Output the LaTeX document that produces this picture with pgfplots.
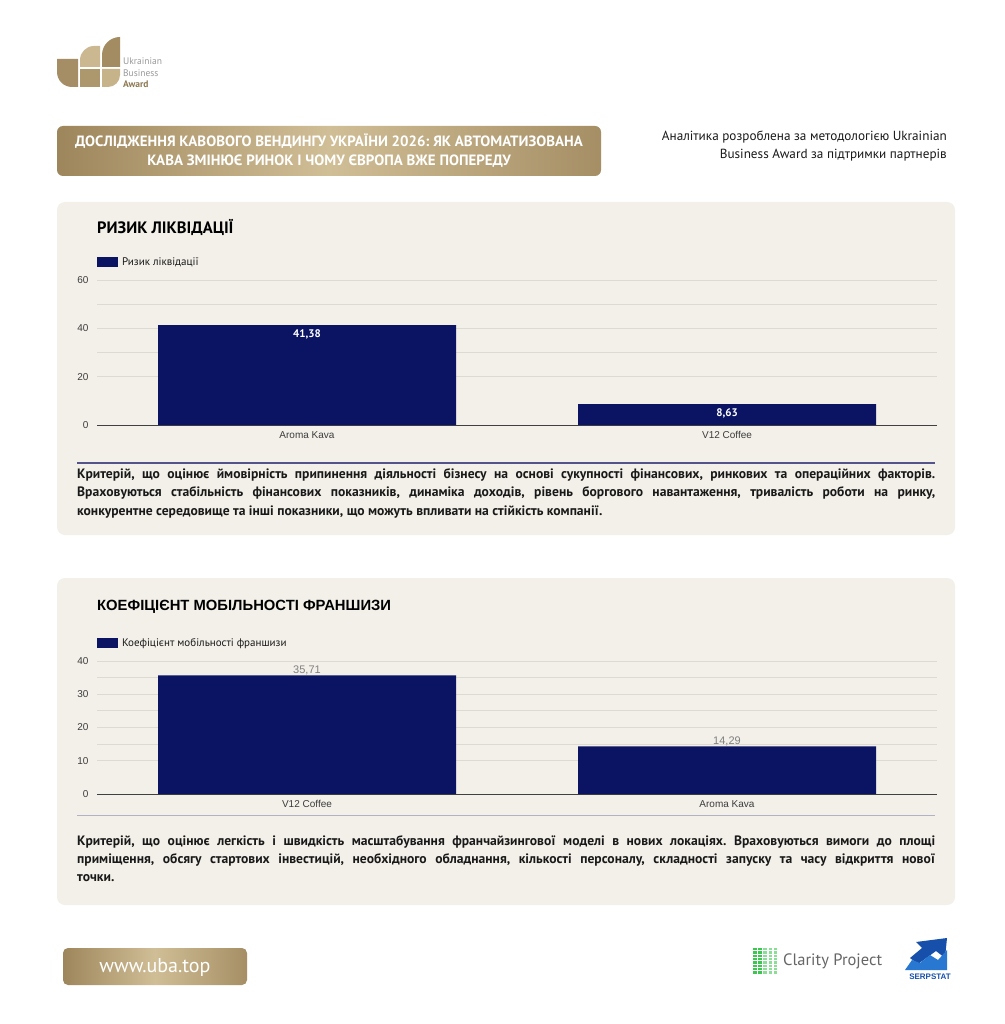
\documentclass[border=0pt]{standalone}
\usepackage{pgfplots}
\pgfplotsset{compat=1.18}
\usepackage{fontspec}
\setmainfont{PT Sans}
\newfontfamily\arialf{Liberation Sans}
\frenchspacing
\definecolor{navy}{RGB}{11,20,99}
\definecolor{panel}{RGB}{243,240,233}
\definecolor{goldD}{RGB}{158,134,92}
\definecolor{goldL}{RGB}{208,190,150}
\definecolor{gridc}{RGB}{221,218,211}
\definecolor{sepc}{RGB}{84,84,140}
\definecolor{txt}{RGB}{25,25,25}
\definecolor{tick}{RGB}{60,60,60}
\definecolor{claritygreen}{RGB}{60,200,80}
\definecolor{serpblue}{RGB}{22,80,170}
\definecolor{serplight}{RGB}{40,120,210}
\pgfplotsset{
  ubabar/.style={
    scale only axis, width=840pt,
    xmin=-0.5, xmax=1.5, ymin=0,
    ybar, bar width=298pt,
    xtick={0,1},
    ymajorgrids, yminorgrids,
    grid style={draw=gridc, line width=0.8pt},
    minor grid style={draw=gridc, line width=0.8pt},
    major tick length=0pt, minor tick length=0pt,
    axis line style={draw=none},
    tick label style={font=\arialf\fontsize{10}{12}\selectfont, text=tick},
    yticklabel style={xshift=-5pt},
    xticklabel style={yshift=-3pt},
    /pgf/number format/assume math mode=true,
    extra y ticks={0},
    extra y tick style={grid style={draw=black!75, line width=1pt}},
    legend style={at={(0,1)}, anchor=south west, draw=none, fill=none,
      inner sep=0pt, font=\fontsize{11}{12}\selectfont, text=txt,
      legend cell align=left},
    legend image code/.code={\fill[navy] (0pt,-5pt) rectangle (21pt,5pt);},
  }
}
\begin{document}
\begin{tikzpicture}[x=1pt,y=-1pt]
\fill[white] (0,0) rectangle (1004,1024);
% ---------- logo ----------
\fill[goldD!85!goldL] (57,59) -- (78,59) -- (78,87) -- (72,87) .. controls (63.7,87) and (57,80.3) .. (57,72) -- cycle;
\fill[goldL!90!goldD] (80,67) -- (80,60) .. controls (80,52.3) and (86.3,46) .. (94,46) -- (100,46) -- (100,67) -- cycle;
\fill[goldD!70!goldL] (80,69) rectangle (100,87);
\fill[goldD!90!goldL] (102,67) -- (102,55) .. controls (102,45.06) and (110.06,37) .. (120,37) -- (120,67) -- cycle;
\fill[goldL!80!goldD] (102,69) -- (120,69) -- (120,75) .. controls (120,81.6) and (114.6,87) .. (108,87) -- (102,87) -- cycle;
\node[anchor=west, inner sep=0pt, text=black!40, font=\fontsize{9.5}{10}\selectfont] at (123,61) {Ukrainian};
\node[anchor=west, inner sep=0pt, text=black!40, font=\fontsize{9.5}{10}\selectfont] at (123,73) {Business};
\node[anchor=west, inner sep=0pt, text=goldD!90!black, font=\bfseries\fontsize{9.5}{10}\selectfont] at (123,84) {Award};
% ---------- title banner ----------
\shade[rounded corners=6pt, left color=goldD, right color=goldD!85!goldL, middle color=goldL] (57,126) rectangle (601,176);
\node[text=white, align=center, font=\bfseries\fontsize{14.9}{19}\selectfont] at (329,151)
  {ДОСЛІДЖЕННЯ КАВОВОГО ВЕНДИНГУ УКРАЇНИ 2026: ЯК АВТОМАТИЗОВАНА\\КАВА ЗМІНЮЄ РИНОК І ЧОМУ ЄВРОПА ВЖЕ ПОПЕРЕДУ};
\node[anchor=east, align=right, text=txt, font=\fontsize{13.2}{18}\selectfont, inner sep=0pt] at (947,146)
  {Аналітика розроблена за методологією Ukrainian\\Business Award за підтримки партнерів};
% ---------- panels ----------
\fill[panel, rounded corners=8pt] (57,202) rectangle (955,535);
\fill[panel, rounded corners=8pt] (57,578) rectangle (955,905);
\node[anchor=west, inner sep=0pt, text=black, font=\bfseries\fontsize{16.5}{18}\selectfont] at (97,227) {РИЗИК ЛІКВІДАЦІЇ};
\node[anchor=west, inner sep=0pt, text=black, font=\arialf\bfseries\fontsize{14.8}{18}\selectfont] at (97,607) {КОЕФІЦІЄНТ МОБІЛЬНОСТІ ФРАНШИЗИ};
% ---------- chart 1 ----------
\begin{axis}[ubabar,
  at={(97pt,-425pt)}, anchor=south west,
  height=145pt, ymax=60,
  ytick={20,40,60}, minor y tick num=1,
  xticklabels={Aroma Kava, V12 Coffee},
  legend style={yshift=11pt},
  nodes near coords={\pgfmathprintnumber[use comma,fixed,fixed zerofill,precision=2]{\pgfplotspointmeta}},
  every node near coord/.append style={anchor=north, yshift=-1pt, text=white, font=\bfseries\fontsize{11}{12}\selectfont},
]
\addplot[fill=navy, draw=none] coordinates {(0,41.38) (1,8.63)};
\legend{\hspace{2pt}Ризик ліквідації}
\end{axis}
\draw[sepc, line width=1.3pt] (77,463) -- (935,463);
\node[anchor=north west, inner sep=0pt, text width=858pt, align=justify, text=txt,
  font=\bfseries\fontsize{13.6}{18.5}\selectfont] at (77,468)
  {Критерій, що оцінює ймовірність припинення діяльності бізнесу на основі сукупності фінансових, ринкових та операційних факторів.\linebreak
   Враховуються стабільність фінансових показників, динаміка доходів, рівень боргового навантаження, тривалість роботи на ринку,\linebreak
   конкурентне середовище та інші показники, що можуть впливати на стійкість компанії.};
% ---------- chart 2 ----------
\begin{axis}[ubabar,
  at={(97pt,-794pt)}, anchor=south west,
  height=133pt, ymax=40,
  ytick={10,20,30,40}, minor y tick num=1,
  xticklabels={V12 Coffee, Aroma Kava},
  legend style={yshift=11pt},
  nodes near coords={\pgfmathprintnumber[use comma,fixed,fixed zerofill,precision=2]{\pgfplotspointmeta}},
  every node near coord/.append style={anchor=south, yshift=-3pt, text=black!50, font=\arialf\fontsize{11}{12}\selectfont},
]
\addplot[fill=navy, draw=none] coordinates {(0,35.71) (1,14.29)};
\legend{\hspace{2pt}Коефіцієнт мобільності франшизи}
\end{axis}
\draw[sepc!40!panel, line width=1pt] (77,815) -- (935,815);
\node[anchor=north west, inner sep=0pt, text width=858pt, align=justify, text=txt,
  font=\bfseries\fontsize{13.6}{18}\selectfont] at (77,835)
  {Критерій, що оцінює легкість і швидкість масштабування франчайзингової моделі в нових локаціях. Враховуються вимоги до площі\linebreak
   приміщення, обсягу стартових інвестицій, необхідного обладнання, кількості персоналу, складності запуску та часу відкриття нової\linebreak
   точки.};
% ---------- footer ----------
\shade[rounded corners=5pt, left color=goldD, right color=goldD!85!goldL, middle color=goldL] (63,948) rectangle (247,985);
\node[text=white, font=\fontsize{20}{22}\selectfont] at (155,967) {www.uba.top};
\foreach \i in {0,...,4} {
  \foreach \j in {0,...,7} {
    \fill[claritygreen!60!white] (753+\i*5.2,948+\j*3.3) rectangle ++(3.6,2.4);
  }
}
\foreach \j in {0,...,7} {\fill[claritygreen] (753,948+\j*3.3) rectangle ++(3.6,2.4);
  \fill[claritygreen] (758.2,948+\j*3.3) rectangle ++(3.6,2.4);}
\node[anchor=west, inner sep=0pt, text=black!60, font=\fontsize{16.5}{18}\selectfont] at (783,961) {Clarity Project};
\fill[serpblue] (916,942) -- (947,938) -- (945,958) -- (936,951) -- (918,964) -- (910,958) -- (922,948) -- cycle;
\fill[serplight] (905,970) -- (912,960) -- (920,963) -- (930,955) -- (938,960) -- (947,950) -- (947,970) -- cycle;
\node[inner sep=0pt, text=serpblue, font=\arialf\bfseries\fontsize{8}{9}\selectfont] at (930,977) {SERPSTAT};
\end{tikzpicture}
\end{document}
